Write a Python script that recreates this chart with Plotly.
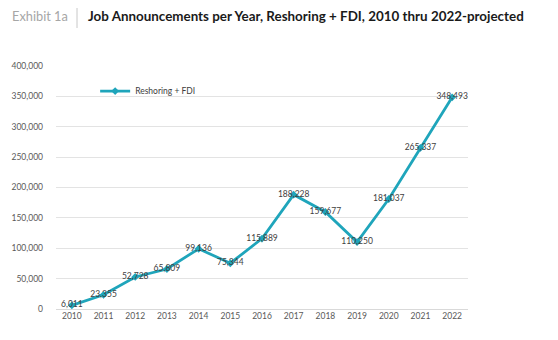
import plotly.graph_objects as go

years = ["2010", "2011", "2012", "2013", "2014", "2015", "2016",
         "2017", "2018", "2019", "2020", "2021", "2022"]
jobs = [6011, 23355, 52728, 65809, 99136, 75344, 115889,
        188228, 159677, 110250, 181037, 265337, 348493]
series_name = "Reshoring + FDI"
y_ticks = [0, 50000, 100000, 150000, 200000, 250000, 300000, 350000, 400000]

teal = "#1fa5bb"
font_family = "Lato, 'Open Sans', sans-serif"

fig = go.Figure()
fig.add_trace(go.Scatter(
    x=years, y=jobs, name=series_name,
    mode="lines+markers+text",
    line=dict(color=teal, width=2.8),
    marker=dict(symbol="diamond", size=6, color=teal),
    text=[f"{v:,}" for v in jobs],
    textposition="middle center",
    textfont=dict(size=8.5, color="#404040", family=font_family),
    cliponaxis=False,
))

fig.update_layout(
    width=558, height=340,
    margin=dict(l=56, r=90, t=66, b=31),
    paper_bgcolor="white", plot_bgcolor="white",
    showlegend=True,
    legend=dict(x=0.095, y=0.897, xanchor="left", yanchor="middle",
                bgcolor="rgba(0,0,0,0)",
                font=dict(size=8.5, color="#404040", family=font_family),
                itemwidth=30),
    xaxis=dict(type="category", range=[-0.5, 12.5], showgrid=False,
               showline=False, ticks="",
               tickfont=dict(size=8.5, color="#595959", family=font_family)),
    yaxis=dict(range=[0, 400000], tickvals=y_ticks,
               ticktext=[f"{v:,}" for v in y_ticks],
               showgrid=True, gridcolor="#e3e3e3", gridwidth=1,
               zeroline=True, zerolinecolor="#d9d9d9", zerolinewidth=1,
               showline=False, ticks="", ticklabelstandoff=12,
               tickfont=dict(size=8.5, color="#595959", family=font_family)),
)

# Header: exhibit number, divider, bold title
fig.add_annotation(text="Exhibit 1a", xref="paper", yref="paper",
                   x=0, y=1, xshift=-46, yshift=50, xanchor="left", yanchor="middle",
                   showarrow=False, font=dict(size=12.8, color="#a6a6a6", family=font_family))
fig.add_annotation(text="<b>Job Announcements per Year, Reshoring + FDI, 2010 thru 2022-projected</b>",
                   xref="paper", yref="paper",
                   x=0, y=1, xshift=30, yshift=50, xanchor="left", yanchor="middle",
                   showarrow=False, font=dict(size=13.4, color="#1a1a1a", family=font_family))
fig.add_shape(type="line", xref="x domain", yref="y domain",
              x0=(77 - 56) / 412, x1=(77 - 56) / 412,
              y0=(340 - 31 - 8) / 243, y1=(340 - 31 - 28) / 243,
              line=dict(color="#c8c8c8", width=1))

fig.write_html("out.html")
